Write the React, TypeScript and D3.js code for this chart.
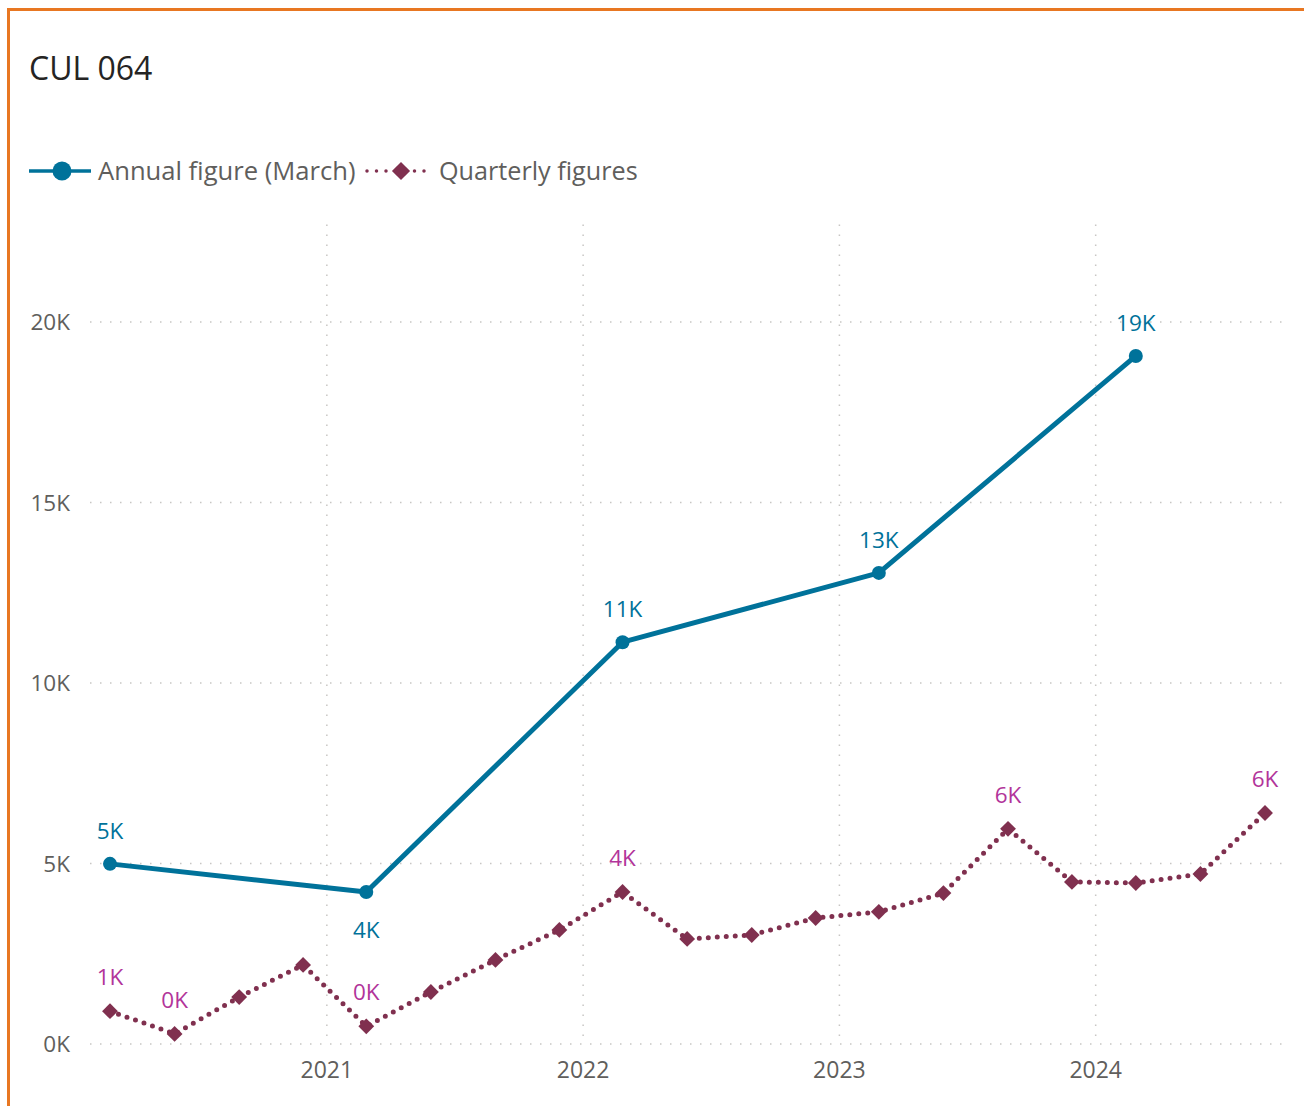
import React from "react";
import * as d3 from "d3";

const annualDates = ["2020-03-01", "2021-03-01", "2022-03-01", "2023-03-01", "2024-03-01"];
const annualValues = [4990, 4210, 11130, 13050, 19060];
const annualLabelPos = ["above", "below", "above", "above", "above"];

const quarterDates = [
  "2020-03-01", "2020-06-01", "2020-09-01", "2020-12-01",
  "2021-03-01", "2021-06-01", "2021-09-01", "2021-12-01",
  "2022-03-01", "2022-06-01", "2022-09-01", "2022-12-01",
  "2023-03-01", "2023-06-01", "2023-09-01", "2023-12-01",
  "2024-03-01", "2024-06-01", "2024-09-01",
];
const quarterValues = [
  910, 280, 1300, 2190,
  490, 1440, 2330, 3160,
  4210, 2910, 3020, 3490,
  3660, 4180, 5960, 4490,
  4460, 4710, 6400,
];
const quarterLabeled = [0, 1, 4, 8, 14, 18];

const yTicks = [0, 5000, 10000, 15000, 20000];
const xTickYears = [2021, 2022, 2023, 2024];

const title = "CUL 064";
const legendAnnual = "Annual figure (March)";
const legendQuarter = "Quarterly figures";

const ANNUAL = "#00729A";
const QUARTER = "#80304F";
const QLABEL = "#B2349A";
const AXIS = "#605E5C";
const GRID = "#C8C6C4";
const FONT = "'Open Sans', 'Segoe UI', sans-serif";

const parse = (s: string) => d3.timeParse("%Y-%m-%d")(s) as Date;
const fmtK = (v: number) => `${Math.round(v / 1000)}K`;

export default function App() {
  const W = 1304, H = 1106;
  const x = d3
    .scaleTime()
    .domain([parse(annualDates[0]), parse(quarterDates[quarterDates.length - 1])])
    .range([110, 1265]);
  const y = d3.scaleLinear().domain([0, 20000]).range([1044, 322]);
  const plotTop = y(22700);
  const gridLeft = 90;
  const gridRight = 1282;

  const annual = annualDates.map((d, i) => ({ d: parse(d), v: annualValues[i] }));
  const quarter = quarterDates.map((d, i) => ({ d: parse(d), v: quarterValues[i] }));

  const line = d3
    .line<{ d: Date; v: number }>()
    .x((p) => x(p.d))
    .y((p) => y(p.v));

  const diamond = d3.symbol().type(d3.symbolDiamond2).size(160)();
  const diamondLegend = d3.symbol().type(d3.symbolDiamond2).size(210)();

  return (
    <svg
      width={W}
      height={H}
      style={{ position: "absolute", left: 0, top: 0, background: "#fff" }}
      fontFamily={FONT}
    >
      {/* border */}
      <line x1={7} x2={W} y1={9.5} y2={9.5} stroke="#E87722" strokeWidth={3} />
      <line x1={8.5} x2={8.5} y1={8} y2={H} stroke="#E87722" strokeWidth={3} />

      {/* title */}
      <text x={29} y={80} fontSize={32} fill="#252423">{title}</text>

      {/* legend */}
      <g>
        <line x1={29} x2={91} y1={171} y2={171} stroke={ANNUAL} strokeWidth={3.5} />
        <circle cx={62} cy={171} r={9.5} fill={ANNUAL} />
        <text x={98} y={180} fontSize={25.6} fill={AXIS}>{legendAnnual}</text>
        <line
          x1={367}
          x2={432}
          y1={171}
          y2={171}
          stroke={QUARTER}
          strokeWidth={3.5}
          strokeDasharray="0 9.5"
          strokeLinecap="round"
        />
        <path d={diamondLegend as string} transform="translate(401,171)" fill={QUARTER} />
        <text x={439} y={180} fontSize={25.2} fill={AXIS}>{legendQuarter}</text>
      </g>

      {/* grid */}
      {yTicks.map((t) => (
        <g key={"y" + t}>
          <line
            x1={gridLeft}
            x2={gridRight}
            y1={y(t)}
            y2={y(t)}
            stroke={GRID}
            strokeWidth={1.5}
            strokeDasharray="1.5 8.5"
          />
          <text x={70} y={y(t) + 8} fontSize={22.5} fill={AXIS} textAnchor="end">
            {fmtK(t)}
          </text>
        </g>
      ))}
      {xTickYears.map((yr) => {
        const xx = x(new Date(yr, 0, 1)) + 2;
        return (
          <g key={"x" + yr}>
            <line
              x1={xx}
              x2={xx}
              y1={plotTop}
              y2={y(0)}
              stroke={GRID}
              strokeWidth={1.5}
              strokeDasharray="1.5 8.5"
            />
            <text x={xx} y={1078} fontSize={23} fill={AXIS} textAnchor="middle">
              {yr}
            </text>
          </g>
        );
      })}

      {/* quarterly */}
      <path
        d={line(quarter) as string}
        fill="none"
        stroke={QUARTER}
        strokeWidth={5}
        strokeDasharray="0 9"
        strokeLinecap="round"
      />
      {quarter.map((p, i) => (
        <path
          key={"qd" + i}
          d={diamond as string}
          transform={`translate(${x(p.d)},${y(p.v)})`}
          fill={QUARTER}
        />
      ))}
      {quarterLabeled.map((i) => (
        <text
          key={"ql" + i}
          x={x(quarter[i].d)}
          y={y(quarter[i].v) - 26}
          fontSize={22.5}
          fill={QLABEL}
          textAnchor="middle"
        >
          {fmtK(quarter[i].v)}
        </text>
      ))}

      {/* annual */}
      <path d={line(annual) as string} fill="none" stroke={ANNUAL} strokeWidth={5} strokeLinejoin="round" />
      {annual.map((p, i) => (
        <circle key={"ac" + i} cx={x(p.d)} cy={y(p.v)} r={7} fill={ANNUAL} />
      ))}
      {annual.map((p, i) => (
        <text
          key={"al" + i}
          x={x(p.d)}
          y={annualLabelPos[i] === "above" ? y(p.v) - 25 : y(p.v) + 46}
          fontSize={22.5}
          fill={ANNUAL}
          textAnchor="middle"
        >
          {fmtK(p.v)}
        </text>
      ))}
    </svg>
  );
}
